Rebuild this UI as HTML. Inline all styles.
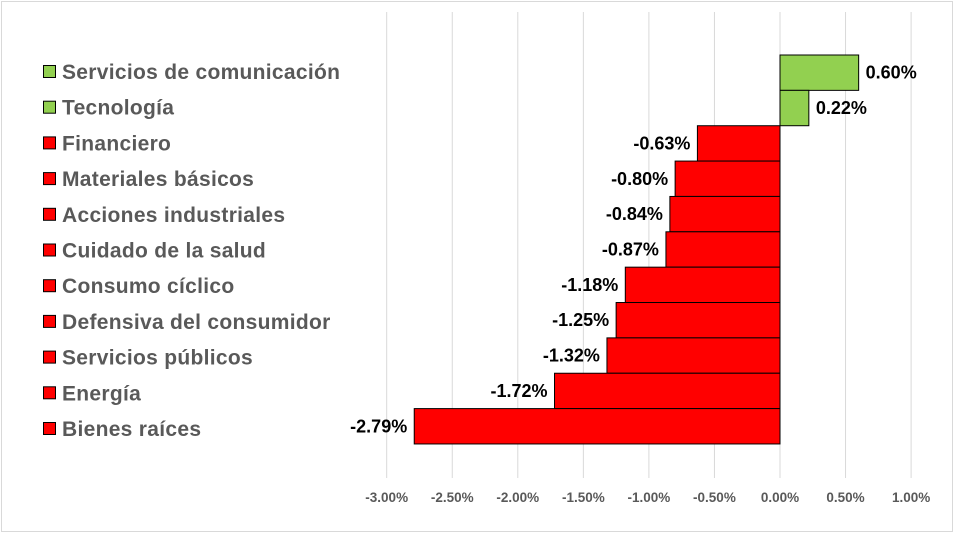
<!DOCTYPE html>
<html><head><meta charset="utf-8"><style>
body{margin:0;background:#fff}
svg{display:block;font-family:"Liberation Sans",sans-serif}
</style></head><body>
<svg id="c" width="955" height="535">
<rect x="1.5" y="1.5" width="951" height="530" fill="#fff" stroke="#d9d9d9"/>
<g id="grid"></g><g id="bars"></g><g id="legend"></g><g id="ticks"></g>
</svg>
<script>
const categories=["Servicios de comunicación","Tecnología","Financiero","Materiales básicos","Acciones industriales","Cuidado de la salud","Consumo cíclico","Defensiva del consumidor","Servicios públicos","Energía","Bienes raíces"];
const values=[0.60,0.22,-0.63,-0.80,-0.84,-0.87,-1.18,-1.25,-1.32,-1.72,-2.79];
const tickValues=[-3,-2.5,-2,-1.5,-1,-0.5,0,0.5,1];
const tickLabels=["-3.00%","-2.50%","-2.00%","-1.50%","-1.00%","-0.50%","0.00%","0.50%","1.00%"];
const NS="http://www.w3.org/2000/svg";
const x=v=>780+v*131.1;
const top0=55,rowH=35.36;
const y=i=>top0+i*rowH;
function mk(t,a,p){const e=document.createElementNS(NS,t);for(const k in a)e.setAttribute(k,a[k]);p.appendChild(e);return e;}
const grid=document.getElementById('grid'),bars=document.getElementById('bars'),leg=document.getElementById('legend'),tk=document.getElementById('ticks');
tickValues.forEach((v,i)=>{
 const l=mk('line',{x1:x(v),x2:x(v),y1:12,y2:478,stroke:'#d9d9d9','stroke-width':1},grid);
 
 
 const t=mk('text',{x:x(v),y:502,'text-anchor':'middle','font-size':13.5,'font-weight':'bold',fill:'#595959'},tk);
 t.textContent=tickLabels[i];
 
 
});
categories.forEach((c,i)=>{
 const v=values[i],col=v>=0?'#92d050':'#ff0000';
 const x0=Math.min(x(0),x(v)),w=Math.abs(x(v)-x(0));
 const r=mk('rect',{x:x0,y:y(i),width:w,height:rowH,fill:col,stroke:'#000','stroke-width':1},bars);
 
 
 const lb=mk('text',{x:v>=0?x(v)+7:x(v)-7,y:y(i)+rowH/2+6,'text-anchor':v>=0?'start':'end','font-size':18,'font-weight':'bold',fill:'#000'},bars);
 lb.textContent=v.toFixed(2)+'%';
 
 
 const cy=72+i*35.7;
 const s=mk('rect',{x:43.5,y:cy-6.5,width:12,height:12,fill:col,stroke:'#000','stroke-width':1},leg);
 
 
 const t=mk('text',{x:62,y:cy+7,'font-size':21,'font-weight':'bold','letter-spacing':0.3,fill:'#595959'},leg);
 t.textContent=c;
 
 
});
</script>
</body></html>
